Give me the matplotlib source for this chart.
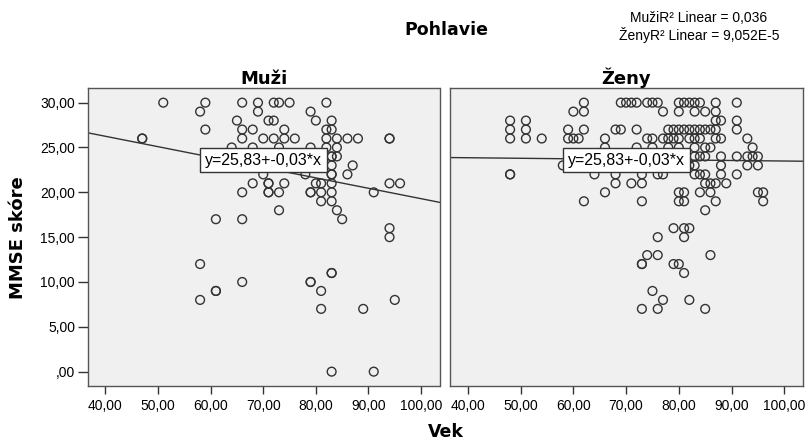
import matplotlib
matplotlib.use("Agg")
import matplotlib.pyplot as plt
import numpy as np

# ---------------- data ----------------
# Muži (men): age, MMSE score
muzi_vek = [51, 59, 66, 69, 72, 73, 75, 82,
            58, 69, 79,
            65, 71, 72, 80, 83,
            59, 66, 68, 74, 82, 83,
            47, 47, 66, 70, 72, 74, 76, 82, 84, 86, 88, 94, 94,
            64, 68, 73, 79, 82, 84,
            67, 72, 77, 83, 83, 84,
            83, 87,
            70, 78, 83, 83, 86,
            68, 71, 71, 74, 80, 81, 83, 94, 96,
            66, 71, 71, 73, 79, 79, 81, 83, 91,
            81, 83,
            73, 84,
            61, 66, 85,
            94,
            94,
            58,
            83, 83,
            66, 79, 79,
            61, 61, 81,
            58, 95,
            81, 89,
            83, 91]
muzi_mmse = [30, 30, 30, 30, 30, 30, 30, 30,
             29, 29, 29,
             28, 28, 28, 28, 28,
             27, 27, 27, 27, 27, 27,
             26, 26, 26, 26, 26, 26, 26, 26, 26, 26, 26, 26, 26,
             25, 25, 25, 25, 25, 25,
             24, 24, 24, 24, 24, 24,
             23, 23,
             22, 22, 22, 22, 22,
             21, 21, 21, 21, 21, 21, 21, 21, 21,
             20, 20, 20, 20, 20, 20, 20, 20, 20,
             19, 19,
             18, 18,
             17, 17, 17,
             16,
             15,
             12,
             11, 11,
             10, 10, 10,
             9, 9, 9,
             8, 8,
             7, 7,
             0, 0]

# Ženy (women): age, MMSE score
zeny_vek = [62, 69, 70, 71, 72, 74, 75, 76, 80, 81, 82, 83, 84, 87, 91,
            60, 62, 77, 80, 83, 85, 87,
            48, 51, 87, 88, 91,
            48, 51, 59, 62, 68, 69, 72, 78, 79, 80, 81, 82, 83, 84, 85, 86, 87, 91,
            48, 51, 54, 59, 60, 61, 66, 74, 75, 77, 78, 79, 80, 82, 83, 84, 87, 88, 93,
            66, 72, 75, 78, 80, 83, 85, 86, 94,
            83, 84, 85, 88, 91, 93, 94, 95,
            58, 82, 83, 88, 93, 95,
            48, 48, 64, 68, 73, 76, 77, 83, 84, 85, 88, 91,
            68, 71, 73, 85, 86, 87, 89,
            66, 80, 81, 84, 86, 95, 96,
            62, 73, 80, 81, 87, 96,
            85,
            79, 81, 82,
            76, 81,
            74, 76, 86,
            73, 73, 79, 80,
            81,
            75,
            77, 82,
            73, 76, 85]
zeny_mmse = [30] * 15 + [29] * 7 + [28] * 5 + [27] * 18 + [26] * 19 + \
            [25] * 9 + [24] * 8 + [23] * 6 + [22] * 12 + [21] * 7 + \
            [20] * 7 + [19] * 6 + [18] * 1 + [16] * 3 + [15] * 2 + \
            [13] * 3 + [12] * 4 + [11] * 1 + [9] * 1 + [8] * 2 + [7] * 3

# fitted lines as drawn (intercept, slope)
fit_muzi = (30.89, -0.116)
fit_zeny = (24.10, -0.0061)

panel_titles = ["Muži", "Ženy"]
fit_label = "y=25,83+-0,03*x"
r2_lines = ["MužiR² Linear = 0,036", "ŽenyR² Linear = 9,052E-5"]

xticks = [40, 50, 60, 70, 80, 90, 100]
yticks = [0, 5, 10, 15, 20, 25, 30]
xticklabels = ["40,00", "50,00", "60,00", "70,00", "80,00", "90,00", "100,00"]
yticklabels = [",00", "5,00", "10,00", "15,00", "20,00", "25,00", "30,00"]

# ---------------- plot ----------------
plt.rcParams['font.family'] = ['Liberation Sans', 'DejaVu Sans']

W, H = 810, 445
fig = plt.figure(figsize=(W / 100, H / 100), dpi=100)
fig.patch.set_facecolor('white')

def rect(x0, x1, ytop, ybot):
    return [x0 / W, 1 - ybot / H, (x1 - x0) / W, (ybot - ytop) / H]

ax1 = fig.add_axes(rect(87.5, 439.5, 88.3, 386))
ax2 = fig.add_axes(rect(450, 802.7, 88.3, 386))

xlim = (36.6, 103.5)
ylim = (-1.6, 31.6)
xs = np.array(xlim)

for ax, vx, vy, fit, title in [(ax1, muzi_vek, muzi_mmse, fit_muzi, panel_titles[0]),
                               (ax2, zeny_vek, zeny_mmse, fit_zeny, panel_titles[1])]:
    ax.set_facecolor('#f0f0f0')
    ax.scatter(vx, vy, s=40, facecolors='none', edgecolors='#333333',
               linewidths=1.0, zorder=3)
    ax.plot(xs, fit[0] + fit[1] * xs, color='#333333', lw=1.0, zorder=2)
    ax.text(70.1, 23.6, fit_label, ha='center', va='center', fontsize=11.5,
            zorder=5,
            bbox=dict(boxstyle='square,pad=0.3', facecolor='white',
                      edgecolor='#333333', linewidth=1.0))
    ax.set_xlim(*xlim)
    ax.set_ylim(*ylim)
    ax.set_xticks(xticks)
    ax.set_xticklabels(xticklabels, fontsize=10)
    ax.tick_params(axis='x', direction='out', length=6, width=1, color='#333333', pad=3)
    for sp in ax.spines.values():
        sp.set_color('#555555')
        sp.set_linewidth(1.0)
    ax.set_title(title, fontsize=13, fontweight='bold', family='DejaVu Sans', pad=3)

ax1.set_yticks(yticks)
ax1.set_yticklabels(yticklabels, fontsize=10)
ax1.tick_params(axis='y', direction='out', length=7, width=1, color='#333333', pad=2)
ax2.set_yticks([])

fig.text(18 / W, 1 - 238 / H, "MMSE skóre", rotation=90, ha='center', va='center',
         fontsize=13, fontweight='bold', family='DejaVu Sans')
fig.text(446 / W, 1 - 432 / H, "Vek", ha='center', va='center',
         fontsize=12.5, fontweight='bold', family='DejaVu Sans')
fig.text(446 / W, 1 - 30 / H, "Pohlavie", ha='center', va='center',
         fontsize=12.5, fontweight='bold', family='DejaVu Sans')
fig.text(699 / W, 1 - 18 / H, r2_lines[0], ha='center', va='center', fontsize=10)
fig.text(699 / W, 1 - 35 / H, r2_lines[1], ha='center', va='center', fontsize=10)

fig.savefig("out.png", dpi=100)
